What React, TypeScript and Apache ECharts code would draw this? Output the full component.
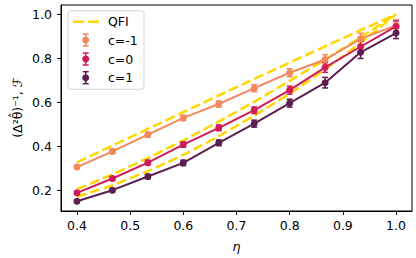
import React, { useEffect, useRef } from "react";
import * as echarts from "echarts";

// ---- data ----
const etaValues = [0.4, 0.4667, 0.5333, 0.6, 0.6667, 0.7333, 0.8, 0.8667, 0.9333, 1.0];
const seriesNames = ["c=-1", "c=0", "c=1"];
const cMinus1Values = [0.307, 0.378, 0.454, 0.53, 0.593, 0.665, 0.735, 0.795, 0.889, 0.95];
const cZeroValues = [0.19, 0.255, 0.327, 0.409, 0.485, 0.565, 0.656, 0.759, 0.853, 0.945];
const cPlus1Values = [0.152, 0.202, 0.264, 0.326, 0.417, 0.504, 0.597, 0.69, 0.828, 0.915];
const cMinus1Errors = [0.008, 0.01, 0.01, 0.012, 0.014, 0.016, 0.018, 0.022, 0.026, 0.025];
const cZeroErrors = [0.008, 0.009, 0.01, 0.012, 0.013, 0.015, 0.018, 0.022, 0.025, 0.025];
const cPlus1Errors = [0.007, 0.008, 0.01, 0.012, 0.013, 0.016, 0.018, 0.024, 0.028, 0.025];
const qfiMinus1 = [0.328, 0.404, 0.48, 0.556, 0.632, 0.707, 0.781, 0.855, 0.928, 1.0];
const qfiZero = [0.207, 0.273, 0.348, 0.428, 0.513, 0.603, 0.698, 0.795, 0.896, 1.0];
const qfiPlus1 = [0.172, 0.224, 0.288, 0.362, 0.447, 0.54, 0.64, 0.75, 0.87, 1.0];
const xTicks = [0.4, 0.5, 0.6, 0.7, 0.8, 0.9, 1.0];
const yTicks = [0.2, 0.4, 0.6, 0.8, 1.0];
const qfiName = "QFI";
const xTitle = "η";
const yTitle = "(Δ²θ̂)⁻¹, ℱ";

const COLORS = ["#f3875e", "#cf1c58", "#5c1e51"];
const QFI_COLOR = "#ffd700";
const FONT = "DejaVu Sans";

export default function App() {
  const ref = useRef<HTMLDivElement>(null);
  useEffect(() => {
    if (!ref.current) return;
    const chart = echarts.init(ref.current, undefined, { renderer: "svg" });
    const values = [cMinus1Values, cZeroValues, cPlus1Values];
    const errors = [cMinus1Errors, cZeroErrors, cPlus1Errors];
    const qfis = [qfiMinus1, qfiZero, qfiPlus1];

    const series: any[] = [];
    qfis.forEach((q, k) => {
      series.push({
        type: "line",
        name: qfiName + k,
        data: etaValues.map((x, i) => [x, q[i]]),
        showSymbol: false,
        symbol: "none",
        lineStyle: { color: QFI_COLOR, width: 2.5, type: [10, 4] },
        z: 1,
      });
    });
    values.forEach((v, k) => {
      const color = COLORS[k];
      series.push({
        type: "custom",
        name: seriesNames[k] + "-err",
        data: etaValues.map((x, i) => [x, v[i], errors[k][i]]),
        encode: { x: 0, y: 1 },
        z: 2,
        renderItem: (params: any, api: any) => {
          const x = api.value(0);
          const y = api.value(1);
          const e = api.value(2);
          const top = api.coord([x, y + e]);
          const bot = api.coord([x, y - e]);
          const cap = 3;
          const style = { stroke: color, lineWidth: 1.5 };
          return {
            type: "group",
            children: [
              { type: "line", shape: { x1: top[0], y1: top[1], x2: bot[0], y2: bot[1] }, style },
              { type: "line", shape: { x1: top[0] - cap, y1: top[1], x2: top[0] + cap, y2: top[1] }, style },
              { type: "line", shape: { x1: bot[0] - cap, y1: bot[1], x2: bot[0] + cap, y2: bot[1] }, style },
            ],
          };
        },
      });
      series.push({
        type: "line",
        name: seriesNames[k],
        data: etaValues.map((x, i) => [x, v[i]]),
        symbol: "circle",
        symbolSize: 7,
        showAllSymbol: true,
        lineStyle: { color, width: 2 },
        itemStyle: { color },
        z: 3,
      });
    });

    // legend drawn as graphic
    const lgX = 68, lgY = 10.7;
    const rowY = [21.7, 40, 59, 77.7];
    const legendChildren: any[] = [
      {
        type: "rect",
        shape: { x: lgX, y: lgY, width: 76, height: 78.6, r: 3 },
        style: { fill: "rgba(255,255,255,0.8)", stroke: "#d4d4d4", lineWidth: 1 },
      },
      {
        type: "line",
        shape: { x1: 73, y1: rowY[0], x2: 99, y2: rowY[0] },
        style: { stroke: QFI_COLOR, lineWidth: 2.5, lineDash: [11, 4] },
      },
      {
        type: "text",
        x: 108,
        y: rowY[0],
        style: { text: qfiName, fontFamily: FONT, fontSize: 12.5, fill: "#000", textVerticalAlign: "middle" },
      },
    ];
    seriesNames.forEach((name, k) => {
      const cy = rowY[k + 1];
      const cx = 85.7;
      const st = { stroke: COLORS[k], lineWidth: 1.5 };
      legendChildren.push(
        { type: "line", shape: { x1: cx, y1: cy - 6, x2: cx, y2: cy + 6 }, style: st },
        { type: "line", shape: { x1: cx - 3, y1: cy - 6, x2: cx + 3, y2: cy - 6 }, style: st },
        { type: "line", shape: { x1: cx - 3, y1: cy + 6, x2: cx + 3, y2: cy + 6 }, style: st },
        { type: "circle", shape: { cx, cy, r: 3.5 }, style: { fill: COLORS[k] } },
        {
          type: "text",
          x: 108,
          y: cy,
          style: { text: name, fontFamily: FONT, fontSize: 12.5, fill: "#000", textVerticalAlign: "middle" },
        }
      );
    });

    const option: any = {
      animation: false,
      backgroundColor: "#fff",
      textStyle: { fontFamily: FONT },
      grid: {
        left: 61,
        top: 5,
        right: 4,
        bottom: 47,
        show: true,
        borderColor: "#000",
        borderWidth: 1,
        backgroundColor: "transparent",
      },
      xAxis: {
        type: "value",
        min: 0.37,
        max: 1.03,
        axisLine: { show: true, lineStyle: { color: "#000", width: 1 } },
        axisTick: { show: true, length: 4, lineStyle: { color: "#000" }, customValues: xTicks },
        axisLabel: {
          customValues: xTicks,
          formatter: (v: number) => v.toFixed(1),
          color: "#000",
          fontFamily: FONT,
          fontSize: 12.5,
          margin: 8,
        },
        splitLine: { show: false },
      },
      yAxis: {
        type: "value",
        min: 0.1075,
        max: 1.0425,
        axisLine: { show: true, lineStyle: { color: "#000", width: 1 } },
        axisTick: { show: true, length: 4, lineStyle: { color: "#000" }, customValues: yTicks },
        axisLabel: {
          customValues: yTicks,
          formatter: (v: number) => v.toFixed(1),
          color: "#000",
          fontFamily: FONT,
          fontSize: 12.5,
          margin: 9,
        },
        splitLine: { show: false },
      },
      graphic: [
        {
          type: "text",
          x: 236.4,
          y: 246.7,
          style: {
            text: xTitle,
            fontFamily: FONT,
            fontStyle: "italic",
            fontSize: 12.5,
            fill: "#000",
            textAlign: "center",
            textVerticalAlign: "middle",
          },
        },
        {
          type: "text",
          x: 17,
          y: 107.6,
          rotation: Math.PI / 2,
          style: {
            text: yTitle,
            fontFamily: FONT,
            fontSize: 12.5,
            fill: "#000",
            textAlign: "center",
            textVerticalAlign: "middle",
          },
        },
        { type: "group", children: legendChildren, z: 100 },
      ],
      series,
    };
    chart.setOption(option);
    return () => chart.dispose();
  }, []);
  return (
    <div
      ref={ref}
      style={{ position: "fixed", left: 0, top: 0, width: 416, height: 258, background: "#fff" }}
    />
  );
}
